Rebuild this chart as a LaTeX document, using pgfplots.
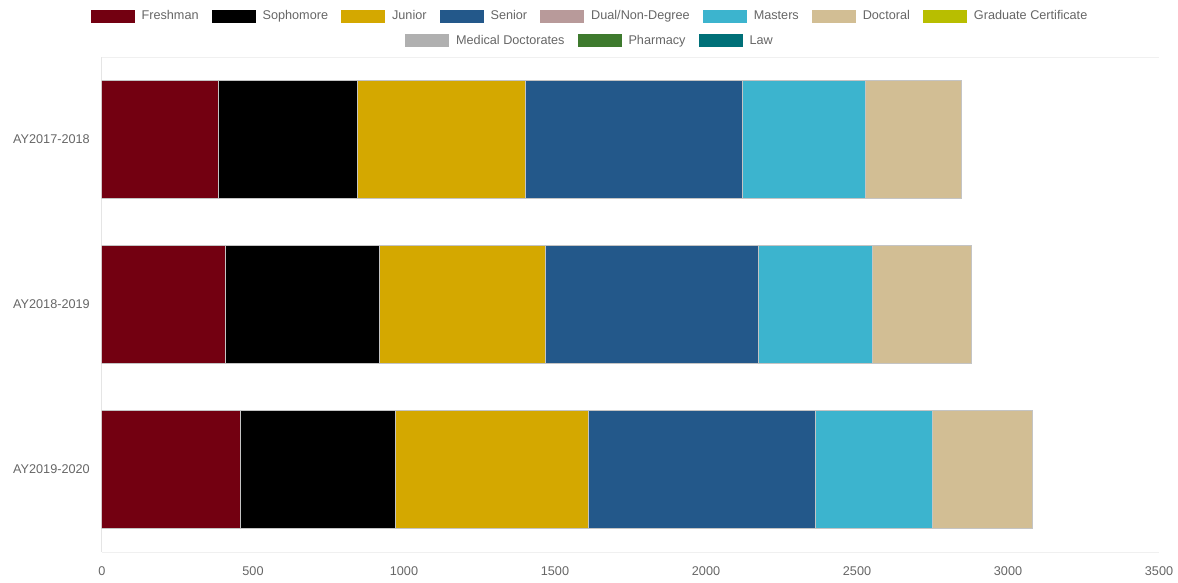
\documentclass[border=0pt]{standalone}
\usepackage{fontspec}
\setmainfont{Liberation Sans}
\usepackage{pgfplots}
\usepackage{pgfplotstable}
\pgfplotsset{compat=1.18}
\definecolor{cFr}{HTML}{730011}
\definecolor{cSo}{HTML}{000000}
\definecolor{cJr}{HTML}{D4A800}
\definecolor{cSr}{HTML}{23588A}
\definecolor{cDu}{HTML}{B89A9A}
\definecolor{cMa}{HTML}{3CB4CE}
\definecolor{cDo}{HTML}{D2BE94}
\definecolor{cGC}{HTML}{B8BE00}
\definecolor{cMD}{HTML}{B0B0B0}
\definecolor{cPh}{HTML}{3E7A2E}
\definecolor{cLaw}{HTML}{007078}
\definecolor{txt}{HTML}{666666}
\definecolor{bord}{HTML}{C4C4C4}
\pgfplotsset{sw/.style={legend image code/.code={\fill[##1,draw=none] (0pt,-4.875pt) rectangle (33pt,4.875pt);}}}
\pgfplotstableread{
idx Fr So Jr Sr Ma Do
0 385 462 556 718 408 318
1 409 509 551 705 378 328
2 457 516 637 753 387 332
}\data
\begin{document}
\begin{tikzpicture}
\pgfplotsset{
  commonax/.style={
    width=792.75pt, height=371.25pt, scale only axis,
    xmin=0, xmax=3500, ymin=-0.5, ymax=2.5, y dir=reverse,
  },
  legsty/.style={
    legend style={draw=none, fill=none, inner sep=0pt, outer sep=0pt,
      font=\fontsize{9.5}{11}\selectfont, text=txt,
      column sep=5.25pt,
      /tikz/every even column/.append style={column sep=9.75pt},
      nodes={inner xsep=0pt, inner ysep=1pt, text height=0.72em, text depth=0.22em},
      anchor=center},
    legend cell align=left,
  },
}
\begin{axis}[commonax, legsty,
  xbar stacked, bar width=88.5pt,
  axis line style={draw=none},
  major tick length=0pt,
  xtick={0,500,1000,1500,2000,2500,3000,3500},
  ytick={0,1,2},
  yticklabels={AY2017-2018,AY2018-2019,AY2019-2020},
  /pgf/number format/assume math mode=true,
  /pgf/number format/1000 sep={},
  tick label style={font=\fontsize{9.5}{11}\selectfont, text=txt},
  xticklabel style={anchor=center, yshift=-14pt},
  yticklabel style={anchor=east, inner sep=0pt, xshift=-9pt},
  extra x ticks={0}, extra x tick labels={},
  extra x tick style={grid=major, major grid style={color=black!10, line width=0.75pt}},
  extra y ticks={-0.5,2.5}, extra y tick labels={},
  extra y tick style={grid=major, major grid style={color=black!6, line width=0.75pt}},
  legend columns=8,
  legend style={at={(0.4607,1)}, yshift=30.4pt},
]
\addplot[fill=cFr, draw=bord, line width=0.75pt, sw] table[x=Fr, y expr=\coordindex]{\data};
\addplot[fill=cSo, draw=bord, line width=0.75pt, sw] table[x=So, y expr=\coordindex]{\data};
\addplot[fill=cJr, draw=bord, line width=0.75pt, sw] table[x=Jr, y expr=\coordindex]{\data};
\addplot[fill=cSr, draw=bord, line width=0.75pt, sw] table[x=Sr, y expr=\coordindex]{\data};
\addlegendimage{fill=cDu, sw}
\addplot[fill=cMa, draw=bord, line width=0.75pt, sw] table[x=Ma, y expr=\coordindex]{\data};
\addplot[fill=cDo, draw=bord, line width=0.75pt, sw] table[x=Do, y expr=\coordindex]{\data};
\addlegendimage{fill=cGC, sw}
\legend{Freshman,Sophomore,Junior,Senior,Dual/Non-Degree,Masters,Doctoral,Graduate Certificate}
\end{axis}
\begin{axis}[commonax, legsty, hide axis,
  legend columns=3,
  legend style={at={(0.4607,1)}, yshift=12pt},
]
\addlegendimage{fill=cMD, sw}
\addlegendimage{fill=cPh, sw}
\addlegendimage{fill=cLaw, sw}
\legend{Medical Doctorates,Pharmacy,Law}
\end{axis}
\pgfresetboundingbox
\path[use as bounding box] (-76.5pt,-22.5pt) rectangle (807pt,414pt);
\end{tikzpicture}
\end{document}
